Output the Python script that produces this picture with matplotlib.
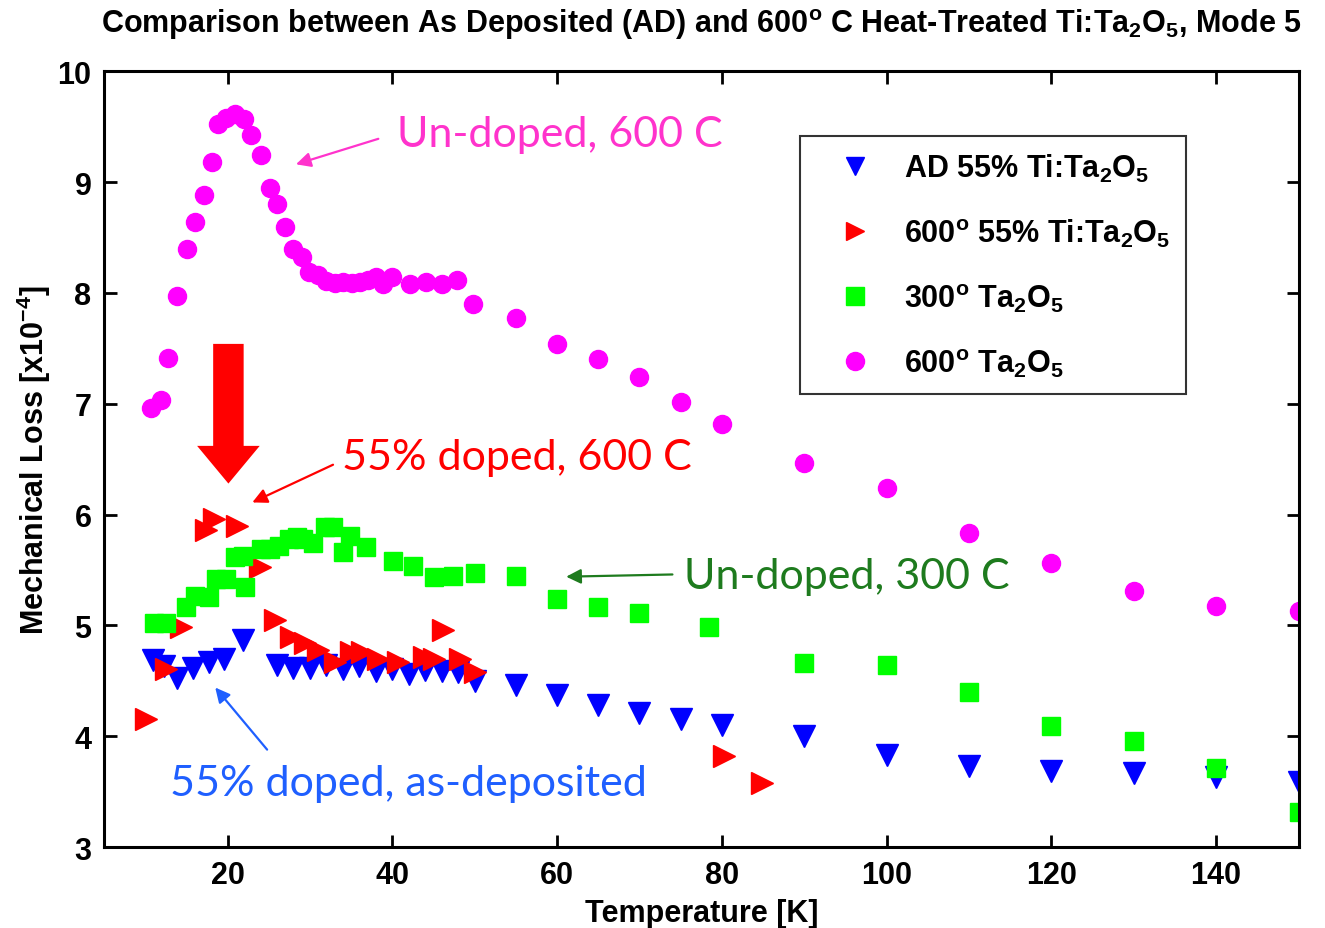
import matplotlib.pyplot as plt
from matplotlib.patches import FancyArrow

plt.rcParams["font.family"] = "Liberation Sans"
plt.rcParams["font.weight"] = "bold"
plt.rcParams["axes.labelweight"] = "bold"
plt.rcParams["axes.titleweight"] = "bold"
plt.rcParams["mathtext.fontset"] = "custom"
plt.rcParams["mathtext.rm"] = "Liberation Sans:bold"
plt.rcParams["mathtext.it"] = "Liberation Sans:bold"
plt.rcParams["mathtext.bf"] = "Liberation Sans:bold"
plt.rcParams["mathtext.default"] = "rm"

# ---- data: temperature [K] and mechanical loss [x1e-4] ----
t_ad55 = [10.9, 12.3, 13.8, 15.8, 17.7, 19.6, 21.9,
          26, 28, 30, 32, 34, 36, 38, 40, 42, 44, 46, 48, 50,
          55, 60, 65, 70, 75, 80, 90, 100, 110, 120, 130, 140, 150]
loss_ad55 = [4.69, 4.63, 4.53, 4.62, 4.67, 4.70, 4.87,
             4.64, 4.62, 4.62, 4.64, 4.61, 4.63, 4.59, 4.61, 4.56, 4.60, 4.59, 4.58, 4.50,
             4.46, 4.37, 4.28, 4.21, 4.16, 4.10, 4.00, 3.83, 3.73, 3.69, 3.67, 3.63, 3.59]

t_ht55 = [10.1, 12.5, 14.4, 17.4, 18.4, 21.1, 23.9, 25.7, 27.7, 29.4, 31.0, 33.0,
          35.0, 36.3, 38.3, 40.7, 43.8, 45.0, 46.2, 48.2, 50.0, 80.3, 84.9]
loss_ht55 = [4.16, 4.61, 4.99, 5.86, 5.96, 5.90, 5.53, 5.05, 4.90, 4.84, 4.78, 4.67,
             4.76, 4.76, 4.70, 4.67, 4.72, 4.70, 4.96, 4.70, 4.58, 3.82, 3.58]

t_300 = [11.1, 12.5, 15.0, 16.1, 17.7, 18.6, 19.8, 20.9, 21.9, 22.1, 24.1, 25.1,
         26.3, 27.5, 28.4, 29.2, 30.4, 31.8, 32.8, 34.0, 34.8, 36.8, 40.1, 42.5,
         45.0, 47.4, 50.0, 55, 60, 65, 70, 78.5, 90, 100, 110, 120, 130, 140, 150]
loss_300 = [5.02, 5.02, 5.17, 5.27, 5.26, 5.42, 5.42, 5.62, 5.63, 5.35, 5.69, 5.69,
            5.72, 5.78, 5.80, 5.78, 5.74, 5.89, 5.89, 5.66, 5.81, 5.71, 5.58, 5.54,
            5.44, 5.45, 5.47, 5.45, 5.24, 5.17, 5.11, 4.99, 4.66, 4.64, 4.40, 4.09,
            3.96, 3.71, 3.32]

t_600 = [10.7, 11.9, 12.8, 13.8, 15.1, 16.1, 17.1, 18.1, 18.8, 19.8, 20.9, 22.0,
         22.9, 24.1, 25.1, 26.0, 27.0, 27.9, 29.0, 29.9, 31.0, 32.0, 33.0, 34.0,
         35.1, 36.1, 37.1, 38.0, 38.9, 39.9, 42.1, 44.1, 46.0, 47.9, 49.8,
         55, 60, 65, 70, 75, 80, 90, 100, 110, 120, 130, 140, 150]
loss_600 = [6.96, 7.03, 7.41, 7.97, 8.40, 8.64, 8.88, 9.18, 9.52, 9.58, 9.61, 9.57,
            9.42, 9.24, 8.95, 8.80, 8.59, 8.40, 8.32, 8.19, 8.16, 8.11, 8.09, 8.10,
            8.09, 8.10, 8.12, 8.14, 8.08, 8.14, 8.08, 8.10, 8.08, 8.12, 7.90,
            7.77, 7.54, 7.40, 7.24, 7.02, 6.82, 6.47, 6.24, 5.83, 5.56, 5.31, 5.18, 5.13]

x_ticks = [20, 40, 60, 80, 100, 120, 140]
y_ticks = [3, 4, 5, 6, 7, 8, 9, 10]

fig = plt.figure(figsize=(13.25, 9.29), dpi=100)
ax = fig.add_axes([0.0785, 0.087, 0.9015, 0.8353])

ax.plot(t_ad55, loss_ad55, "v", color="#0000ff", ms=16, mec="#0000ff",
        label=r"AD 55% Ti:Ta$_2$O$_5$")
ax.plot(t_ht55, loss_ht55, ">", color="#ff0000", ms=16, mec="#ff0000",
        label=r"600$^{\rm o}$ 55% Ti:Ta$_2$O$_5$")
ax.plot(t_300, loss_300, "s", color="#00ff00", ms=13.5, mec="#00ff00",
        label=r"300$^{\rm o}$ Ta$_2$O$_5$")
ax.plot(t_600, loss_600, "o", color="#ff00ff", ms=13, mec="#ff00ff",
        label=r"600$^{\rm o}$ Ta$_2$O$_5$")

ax.set_xlim(5, 150)
ax.set_ylim(3, 10)
ax.set_xticks(x_ticks)
ax.set_yticks(y_ticks)
ax.tick_params(direction="in", length=9, width=2, labelsize=22,
               top=True, right=True, pad=9)
for sp in ax.spines.values():
    sp.set_linewidth(2.2)

ax.set_xlabel("Temperature [K]", fontsize=22, labelpad=6)
ax.set_ylabel(r"Mechanical Loss [x10$^{-4}$]", fontsize=22, labelpad=3)
ax.set_title(r"Comparison between As Deposited (AD) and 600$^{\rm o}$ C "
             r"Heat-Treated Ti:Ta$_2$O$_5$, Mode 5", fontsize=22, pad=28)

leg = ax.legend(loc="upper left", bbox_to_anchor=(0.583, 0.916),
                borderaxespad=0, fontsize=22, frameon=True, fancybox=False,
                edgecolor="black", borderpad=0.5, labelspacing=1.05,
                handletextpad=0.3, handlelength=2.6)
leg.get_frame().set_linewidth(1.5)
for h in leg.legend_handles:
    h.set_markersize(13)

# call-out labels
callouts = [
    ("Un-doped, 600 C", "#ff33cc", (40.6, 9.43), (38.3, 9.39), (28.3, 9.16)),
    ("55% doped, 600 C", "#ff0000", (33.9, 6.52), (32.8, 6.45), (23.0, 6.11)),
    ("Un-doped, 300 C", "#1e7b1e", (75.4, 5.45), (74.0, 5.46), (61.1, 5.44)),
    ("55% doped, as-deposited", "#1f5fff", (13.0, 3.58), (24.8, 3.88), (18.5, 4.44)),
]
for text, col, txy, tail, head in callouts:
    ax.text(txy[0], txy[1], text, color=col, fontsize=31, family="Lato",
            weight="normal", ha="left", va="center")
    ax.annotate("", xy=head, xytext=tail,
                arrowprops=dict(arrowstyle="-|>", color=col, lw=1.6,
                                mutation_scale=22, shrinkA=0, shrinkB=0))

# big downward arrow over the 600 C doped peak
ax.add_patch(FancyArrow(20.1, 7.54, 0, -1.26, width=3.7, head_width=7.6,
                        head_length=0.34, length_includes_head=True,
                        color="#ff0000", lw=0))

fig.savefig("out.png", dpi=100)
